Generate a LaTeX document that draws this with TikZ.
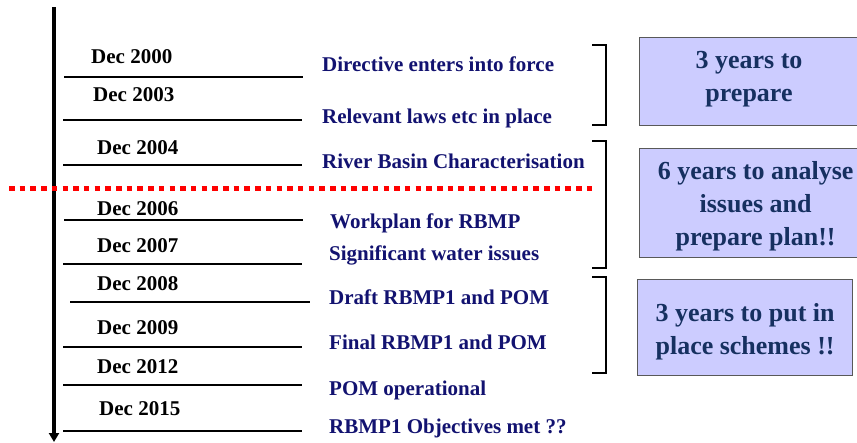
\documentclass[tikz,border=0pt]{standalone}
\usepackage{fontspec}
\setmainfont{Liberation Serif}[BoldFont={Liberation Serif Bold}]
\usetikzlibrary{arrows.meta}
\definecolor{navytext}{RGB}{18,18,112}
\definecolor{boxtext}{RGB}{22,48,96}
\definecolor{boxfill}{RGB}{204,204,255}
\begin{document}
\begin{tikzpicture}[x=1pt,y=-1pt,
  datelbl/.style={anchor=base west, inner sep=0pt, font=\fontsize{21}{24}\selectfont\bfseries},
  eventlbl/.style={anchor=base west, inner sep=0pt, text=navytext, font=\fontsize{21}{24}\selectfont\bfseries},
  tickline/.style={line width=2.5pt},
  bracketline/.style={line width=2pt},
  summary/.style={draw=black!65, line width=1.2pt, fill=boxfill, anchor=north west, inner sep=0pt},
  summarytext/.style={text=boxtext, align=center, inner sep=0pt,
    font=\fontsize{26}{33}\selectfont\bfseries},
  midline/.style={red, line width=5pt, dash pattern=on 5.5pt off 5.2pt}
]
\useasboundingbox (0,0) rectangle (857,442);

% time axis
\coordinate (axistop) at (54,7);
\coordinate (axisend) at (54,442);
\draw[line width=3.5pt, -{Triangle[width=10pt,length=9pt]}] (axistop) -- (axisend);

% milestone rules
\foreach \y/\xa/\xb in {77/64/303, 120/63/302, 165/63/302, 220/64/303, 264/63/302,
                        302/70/310, 347/63/302, 385/63/302, 431/63/302}
  \draw[tickline] (\xa,\y) -- (\xb,\y);

% dates
\node[datelbl] (d2000) at (91,63)  {Dec 2000};
\node[datelbl] (d2003) at (93,101) {Dec 2003};
\node[datelbl] (d2004) at (97,154) {Dec 2004};
\node[datelbl] (d2006) at (97,215) {Dec 2006};
\node[datelbl] (d2007) at (97,252) {Dec 2007};
\node[datelbl] (d2008) at (97,290) {Dec 2008};
\node[datelbl] (d2009) at (97,334) {Dec 2009};
\node[datelbl] (d2012) at (97,373) {Dec 2012};
\node[datelbl] (d2015) at (99,415) {Dec 2015};

% events
\node[eventlbl] (e1) at (322,71)  {Directive enters into force};
\node[eventlbl] (e2) at (322,123) {Relevant laws etc in place};
\node[eventlbl] (e3) at (322,168) {River Basin Characterisation};
\node[eventlbl] (e4) at (330,228) {Workplan for RBMP};
\node[eventlbl] (e5) at (329,260) {Significant water issues};
\node[eventlbl] (e6) at (329,304) {Draft RBMP1 and POM};
\node[eventlbl] (e7) at (329,349) {Final RBMP1 and POM};
\node[eventlbl] (e8) at (329,395) {POM operational};
\node[eventlbl] (e9) at (329,433) {RBMP1 Objectives met ??};

% separator
\draw[midline] (9,188) -- (592,188);

% period brackets
\draw[bracketline] (592,45) -- (606,45) -- (606,125) -- (592,125);
\draw[bracketline] (592,141) -- (606,141) -- (606,268) -- (592,268);
\draw[bracketline] (592,277) -- (606,277) -- (606,373) -- (592,373);

% period summaries
\node[summary, minimum width=232pt, minimum height=88pt] (s1) at (639,37) {};
\node[summary, minimum width=232pt, minimum height=109pt] (s2) at (639,148) {};
\node[summary, minimum width=215pt, minimum height=96pt] (s3) at (637,279) {};
\node[summarytext, yshift=2pt] (t1) at (749,81) {3 years to\\prepare};
\node[summarytext, yshift=-3pt] (t2) at (s2.center) {6 years to analyse\\issues and\\prepare plan!!};
\node[summarytext, yshift=-4pt] (t3) at (s3.center) {3 years to put in\\place schemes !!};
\end{tikzpicture}
\end{document}
